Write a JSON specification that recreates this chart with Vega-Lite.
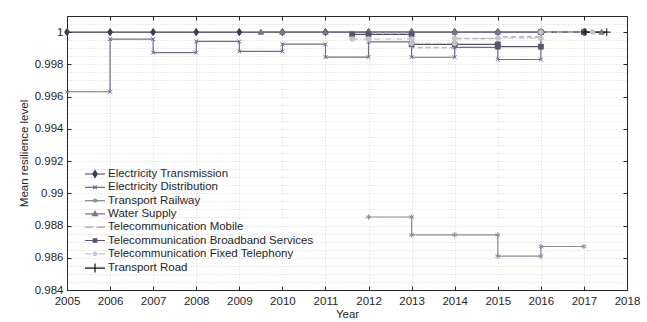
{
  "$schema": "https://vega.github.io/schema/vega-lite/v6.json",
  "width": 560,
  "height": 274,
  "autosize": {"type": "none"},
  "padding": {"left": 67, "top": 16, "right": 20, "bottom": 32},
  "config": {
    "view": {"stroke": null},
    "font": "Liberation Sans",
    "axis": {
      "domainColor": "#262626",
      "tickColor": "#262626",
      "labelColor": "#262626",
      "titleColor": "#262626",
      "labelFont": "Liberation Sans",
      "titleFont": "Liberation Sans",
      "labelFontSize": 11.5,
      "titleFontSize": 11.5,
      "titleFontWeight": "normal",
      "tickSize": -4,
      "domainWidth": 1
    },
    "legend": {
      "orient": "none",
      "legendX": 22,
      "legendY": 152,
      "padding": 0,
      "labelFont": "Liberation Sans",
      "labelFontSize": 11.5,
      "labelColor": "#262626",
      "symbolSize": 100,
      "symbolStrokeWidth": 1.2,
      "rowPadding": 1.3,
      "labelOffset": 7,
      "labelLimit": 400
    }
  },
  "data": {
    "values": [
      {"s": "Electricity Transmission", "i": 0, "x": 2005, "y": 1},
      {"s": "Electricity Transmission", "i": 1, "x": 2006, "y": 1},
      {"s": "Electricity Transmission", "i": 2, "x": 2007, "y": 1},
      {"s": "Electricity Transmission", "i": 3, "x": 2008, "y": 1},
      {"s": "Electricity Transmission", "i": 4, "x": 2009, "y": 1},
      {"s": "Electricity Transmission", "i": 5, "x": 2010, "y": 1},
      {"s": "Electricity Transmission", "i": 6, "x": 2011, "y": 1},
      {"s": "Electricity Transmission", "i": 7, "x": 2012, "y": 1},
      {"s": "Electricity Transmission", "i": 8, "x": 2013, "y": 1},
      {"s": "Electricity Transmission", "i": 9, "x": 2014, "y": 1},
      {"s": "Electricity Transmission", "i": 10, "x": 2015, "y": 1},
      {"s": "Electricity Transmission", "i": 11, "x": 2016, "y": 1},
      {"s": "Electricity Transmission", "i": 12, "x": 2017, "y": 1},

      {"s": "Electricity Distribution", "i": 0, "x": 2005, "y": 0.9963},
      {"s": "Electricity Distribution", "i": 1, "x": 2006, "y": 0.9963},
      {"s": "Electricity Distribution", "i": 2, "x": 2006, "y": 0.99957},
      {"s": "Electricity Distribution", "i": 3, "x": 2007, "y": 0.99957},
      {"s": "Electricity Distribution", "i": 4, "x": 2007, "y": 0.99873},
      {"s": "Electricity Distribution", "i": 5, "x": 2008, "y": 0.99873},
      {"s": "Electricity Distribution", "i": 6, "x": 2008, "y": 0.99942},
      {"s": "Electricity Distribution", "i": 7, "x": 2009, "y": 0.99942},
      {"s": "Electricity Distribution", "i": 8, "x": 2009, "y": 0.9988},
      {"s": "Electricity Distribution", "i": 9, "x": 2010, "y": 0.9988},
      {"s": "Electricity Distribution", "i": 10, "x": 2010, "y": 0.99925},
      {"s": "Electricity Distribution", "i": 11, "x": 2011, "y": 0.99925},
      {"s": "Electricity Distribution", "i": 12, "x": 2011, "y": 0.99845},
      {"s": "Electricity Distribution", "i": 13, "x": 2012, "y": 0.99845},
      {"s": "Electricity Distribution", "i": 14, "x": 2012, "y": 0.9994},
      {"s": "Electricity Distribution", "i": 15, "x": 2013, "y": 0.9994},
      {"s": "Electricity Distribution", "i": 16, "x": 2013, "y": 0.99844},
      {"s": "Electricity Distribution", "i": 17, "x": 2014, "y": 0.99844},
      {"s": "Electricity Distribution", "i": 18, "x": 2014, "y": 0.99905},
      {"s": "Electricity Distribution", "i": 19, "x": 2015, "y": 0.99905},
      {"s": "Electricity Distribution", "i": 20, "x": 2015, "y": 0.9983},
      {"s": "Electricity Distribution", "i": 21, "x": 2016, "y": 0.9983},
      {"s": "Electricity Distribution", "i": 22, "x": 2016, "y": 0.99903},

      {"s": "Transport Railway", "i": 0, "x": 2012, "y": 0.98853},
      {"s": "Transport Railway", "i": 1, "x": 2013, "y": 0.98853},
      {"s": "Transport Railway", "i": 2, "x": 2013, "y": 0.98742},
      {"s": "Transport Railway", "i": 3, "x": 2014, "y": 0.98742},
      {"s": "Transport Railway", "i": 4, "x": 2015, "y": 0.98742},
      {"s": "Transport Railway", "i": 5, "x": 2015, "y": 0.9861},
      {"s": "Transport Railway", "i": 6, "x": 2016, "y": 0.9861},
      {"s": "Transport Railway", "i": 7, "x": 2016, "y": 0.9867},
      {"s": "Transport Railway", "i": 8, "x": 2017, "y": 0.9867},

      {"s": "Water Supply", "i": 0, "x": 2009.5, "y": 1},
      {"s": "Water Supply", "i": 1, "x": 2010, "y": 1},
      {"s": "Water Supply", "i": 2, "x": 2011, "y": 1},
      {"s": "Water Supply", "i": 3, "x": 2012, "y": 1},
      {"s": "Water Supply", "i": 4, "x": 2013, "y": 1},
      {"s": "Water Supply", "i": 5, "x": 2014, "y": 1},
      {"s": "Water Supply", "i": 6, "x": 2015, "y": 1},
      {"s": "Water Supply", "i": 7, "x": 2016, "y": 1},
      {"s": "Water Supply", "i": 8, "x": 2017.41, "y": 1},

      {"s": "Telecommunication Mobile", "i": 0, "x": 2012, "y": 0.99995},
      {"s": "Telecommunication Mobile", "i": 1, "x": 2013, "y": 0.99995},
      {"s": "Telecommunication Mobile", "i": 2, "x": 2013, "y": 0.99903},
      {"s": "Telecommunication Mobile", "i": 3, "x": 2014, "y": 0.99903},
      {"s": "Telecommunication Mobile", "i": 4, "x": 2014, "y": 0.9996},
      {"s": "Telecommunication Mobile", "i": 5, "x": 2015, "y": 0.9996},
      {"s": "Telecommunication Mobile", "i": 6, "x": 2015, "y": 0.9997},
      {"s": "Telecommunication Mobile", "i": 7, "x": 2016, "y": 0.9997},
      {"s": "Telecommunication Mobile", "i": 8, "x": 2016, "y": 1},
      {"s": "Telecommunication Mobile", "i": 9, "x": 2017, "y": 1},

      {"s": "Telecommunication Broadband Services", "i": 0, "x": 2011.62, "y": 0.99986},
      {"s": "Telecommunication Broadband Services", "i": 1, "x": 2012, "y": 0.99986},
      {"s": "Telecommunication Broadband Services", "i": 2, "x": 2013, "y": 0.99986},
      {"s": "Telecommunication Broadband Services", "i": 3, "x": 2013, "y": 0.99924},
      {"s": "Telecommunication Broadband Services", "i": 4, "x": 2014, "y": 0.99924},
      {"s": "Telecommunication Broadband Services", "i": 5, "x": 2015, "y": 0.99924},
      {"s": "Telecommunication Broadband Services", "i": 6, "x": 2015, "y": 0.9991},
      {"s": "Telecommunication Broadband Services", "i": 7, "x": 2016, "y": 0.9991},
      {"s": "Telecommunication Broadband Services", "i": 8, "x": 2016, "y": 1},
      {"s": "Telecommunication Broadband Services", "i": 9, "x": 2017, "y": 1},

      {"s": "Telecommunication Fixed Telephony", "i": 0, "x": 2011.62, "y": 0.99957},
      {"s": "Telecommunication Fixed Telephony", "i": 1, "x": 2012, "y": 0.99957},
      {"s": "Telecommunication Fixed Telephony", "i": 2, "x": 2013, "y": 0.99957},
      {"s": "Telecommunication Fixed Telephony", "i": 3, "x": 2013, "y": 0.9993},
      {"s": "Telecommunication Fixed Telephony", "i": 4, "x": 2014, "y": 0.9993},
      {"s": "Telecommunication Fixed Telephony", "i": 5, "x": 2014, "y": 0.99962},
      {"s": "Telecommunication Fixed Telephony", "i": 6, "x": 2015, "y": 0.99962},
      {"s": "Telecommunication Fixed Telephony", "i": 7, "x": 2016, "y": 0.99962},
      {"s": "Telecommunication Fixed Telephony", "i": 8, "x": 2016, "y": 1},
      {"s": "Telecommunication Fixed Telephony", "i": 9, "x": 2017.2, "y": 1},

      {"s": "Transport Road", "i": 0, "x": 2017.03, "y": 1},
      {"s": "Transport Road", "i": 1, "x": 2017.53, "y": 1}
    ]
  },
  "encoding": {
    "x": {"field": "x", "type": "quantitative", "scale": {"domain": [2005, 2018], "nice": false, "zero": false}},
    "y": {"field": "y", "type": "quantitative", "scale": {"domain": [0.984, 1.001], "nice": false, "zero": false}}
  },
  "layer": [
    {
      "transform": [{"filter": "datum.i < 0"}],
      "mark": {"type": "point", "opacity": 1},
      "encoding": {
        "x": {"field": "x", "type": "quantitative", "axis": null},
        "y": {"field": "y", "type": "quantitative", "axis": {
          "orient": "left", "values": [0.984,0.9845,0.985,0.9855,0.986,0.9865,0.987,0.9875,0.988,0.9885,0.989,0.9895,0.99,0.9905,0.991,0.9915,0.992,0.9925,0.993,0.9935,0.994,0.9945,0.995,0.9955,0.996,0.9965,0.997,0.9975,0.998,0.9985,0.999,0.9995,1,1.0005],
          "grid": true, "gridDash": [1, 2], "gridColor": "#d4d4d4", "gridWidth": 1,
          "ticks": false, "labels": false, "domain": false, "title": null}},
        "shape": {"field": "s", "type": "nominal", "legend": {"title": null},
          "scale": {
            "domain": ["Electricity Transmission","Electricity Distribution","Transport Railway","Water Supply","Telecommunication Mobile","Telecommunication Broadband Services","Telecommunication Fixed Telephony","Transport Road"],
            "range": [
              "M-2,0H2M0,-0.7L0.45,0L0,0.7L-0.45,0Z",
              "M-2,0H2M-0.35,-0.35L0.35,0.35M-0.35,0.35L0.35,-0.35",
              "M-2,0H2M0,-0.45V0.45M-0.4,-0.22L0.4,0.22M-0.4,0.22L0.4,-0.22",
              "M-2,0H2M0,-0.5L0.5,0.35L-0.5,0.35Z",
              "M-2,0H-0.3M0.3,0H2",
              "M-2,0H2M-0.35,-0.35H0.35V0.35H-0.35Z",
              "M-2,0H-0.7M0.7,0H2M0,-0.35A0.35,0.35 0 1,1 0,0.35A0.35,0.35 0 1,1 0,-0.35",
              "M-2,0H2M0,-0.9V0.9"
            ]}},
        "stroke": {"field": "s", "type": "nominal", "legend": {"title": null},
          "scale": {
            "domain": ["Electricity Transmission","Electricity Distribution","Transport Railway","Water Supply","Telecommunication Mobile","Telecommunication Broadband Services","Telecommunication Fixed Telephony","Transport Road"],
            "range": ["#3b3b5e","#6d6d8c","#8c8c9c","#777788","#9c9cb4","#55556e","#c4c4c8","#111111"]}},
        "fill": {"field": "s", "type": "nominal", "legend": {"title": null},
          "scale": {
            "domain": ["Electricity Transmission","Electricity Distribution","Transport Railway","Water Supply","Telecommunication Mobile","Telecommunication Broadband Services","Telecommunication Fixed Telephony","Transport Road"],
            "range": ["#3b3b5e","#6d6d8c","#8c8c9c","#777788","#9c9cb4","#55556e","#c4c4c8","#111111"]}}
      }
    },
    {
      "mark": {"type": "line", "strokeWidth": 1.2},
      "encoding": {
        "x": {"field": "x", "type": "quantitative", "axis": {
          "orient": "bottom", "values": [2005,2006,2007,2008,2009,2010,2011,2012,2013,2014,2015,2016,2017,2018],
          "format": "d", "title": "Year", "grid": true, "gridDash": [1, 2], "gridColor": "#d4d4d4",
          "labelPadding": 9, "titlePadding": 2, "labelFlush": false}},
        "y": {"field": "y", "type": "quantitative", "axis": {
          "orient": "left", "values": [0.984,0.986,0.988,0.99,0.992,0.994,0.996,0.998,1],
          "format": "~g", "title": "Mean resilience level", "grid": false, "labelPadding": 8, "titlePadding": 5}},
        "order": {"field": "i", "type": "quantitative"},
        "stroke": {"field": "s", "type": "nominal", "legend": null},
        "strokeDash": {"field": "s", "type": "nominal", "legend": null,
          "scale": {
            "domain": ["Electricity Transmission","Electricity Distribution","Transport Railway","Water Supply","Telecommunication Mobile","Telecommunication Broadband Services","Telecommunication Fixed Telephony","Transport Road"],
            "range": [[1,0],[1,0],[1,0],[1,0],[5,3],[1,0],[6,2,1,2],[1,0]]}}
      }
    },
    {
      "transform": [{"filter": "datum.s != 'Telecommunication Mobile'"}],
      "mark": {"type": "point", "opacity": 1, "size": 36, "strokeWidth": 1},
      "encoding": {
        "x": {"field": "x", "type": "quantitative", "axis": {
          "orient": "top", "values": [2005,2006,2007,2008,2009,2010,2011,2012,2013,2014,2015,2016,2017,2018],
          "labels": false, "title": null, "grid": false}},
        "y": {"field": "y", "type": "quantitative", "axis": {
          "orient": "right", "values": [0.984,0.986,0.988,0.99,0.992,0.994,0.996,0.998,1],
          "labels": false, "title": null, "grid": false}},
        "shape": {"field": "s", "type": "nominal", "legend": null,
          "scale": {
            "domain": ["Electricity Transmission","Electricity Distribution","Transport Railway","Water Supply","Telecommunication Mobile","Telecommunication Broadband Services","Telecommunication Fixed Telephony","Transport Road"],
            "range": [
              "M0,-1.2L0.8,0L0,1.2L-0.8,0Z",
              "M-0.65,-0.65L0.65,0.65M-0.65,0.65L0.65,-0.65",
              "M0,-0.9V0.9M-0.8,-0.45L0.8,0.45M-0.8,0.45L0.8,-0.45",
              "M0,-1L0.9,0.7L-0.9,0.7Z",
              "M0,0",
              "M-0.8,-0.8H0.8V0.8H-0.8Z",
              "M0,-0.8A0.8,0.8 0 1,1 0,0.8A0.8,0.8 0 1,1 0,-0.8",
              "M-1.3,0H1.3M0,-1.3V1.3"
            ]}},
        "stroke": {"field": "s", "type": "nominal", "legend": null},
        "fill": {"field": "s", "type": "nominal", "legend": null}
      }
    }
  ],
  "resolve": {
    "axis": {"x": "independent", "y": "independent"},
    "scale": {"shape": "independent"},
    "legend": {"shape": "independent", "stroke": "independent", "fill": "independent"}
  }
}
